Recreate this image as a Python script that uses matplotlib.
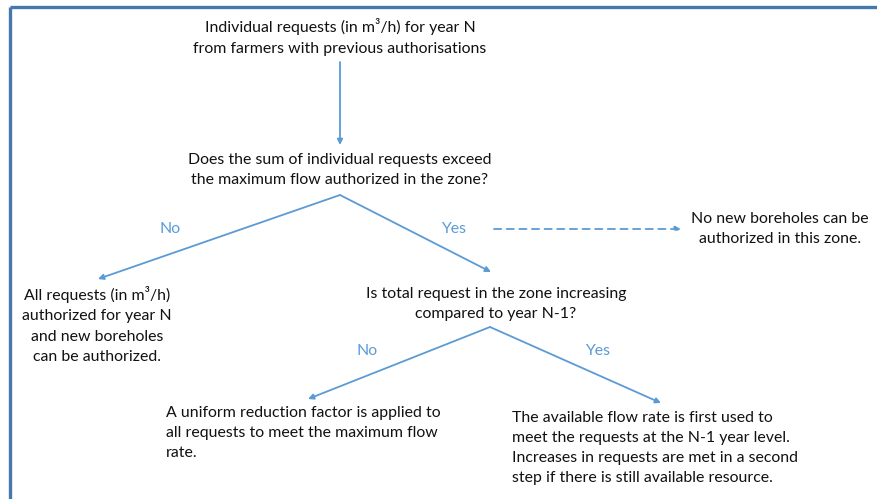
import matplotlib.pyplot as plt

# node texts
top_text = "Individual requests (in m³/h) for year N\nfrom farmers with previous authorisations"
q1_text = "Does the sum of individual requests exceed\nthe maximum flow authorized in the zone?"
no_new_text = "No new boreholes can be\nauthorized in this zone."
all_ok_text = "All requests (in m³/h)\nauthorized for year N\nand new boreholes\ncan be authorized."
q2_text = "Is total request in the zone increasing\ncompared to year N-1?"
reduce_text = "A uniform reduction factor is applied to\nall requests to meet the maximum flow\nrate."
first_text = ("The available flow rate is first used to\nmeet the requests at the N-1 year level.\n"
              "Increases in requests are met in a second\nstep if there is still available resource.")
branch_labels = ["No", "Yes", "No", "Yes"]

# layout in pixel coords (y downwards)
branch_pos = [(170, 229), (454, 229), (367, 351), (598, 351)]
arrows = [((340, 62), (340, 145)),
          ((340, 195), (98, 279)),
          ((340, 195), (491, 272)),
          ((490, 327), (308, 399)),
          ((490, 327), (661, 403))]
dashed_arrow = ((494, 229), (681, 229))

blue = '#5b9bd5'
frame = '#4677ad'
fs = 11.4
plt.rcParams['font.family'] = ['Lato', 'DejaVu Sans']

fig = plt.figure(figsize=(8.77, 4.99), dpi=100)
ax = fig.add_axes([0, 0, 1, 1])
ax.set_xlim(0, 877)
ax.set_ylim(499, 0)
ax.axis('off')

# frame on top and left
ax.plot([9.5, 877], [6.5, 6.5], color=frame, lw=2.4, solid_capstyle='butt')
ax.plot([9.5, 9.5], [6.5, 499], color=frame, lw=2.4, solid_capstyle='butt')

txt = dict(fontsize=fs, color='#111111', va='center', linespacing=1.55)
ax.text(340, 37, top_text, ha='center', multialignment='center', **txt)
ax.text(340, 170, q1_text, ha='center', multialignment='center', **txt)
ax.text(780, 229, no_new_text, ha='center', multialignment='center', **txt)
ax.text(97, 325, all_ok_text, ha='center', multialignment='center', **txt)
ax.text(496, 304, q2_text, ha='center', multialignment='center', **txt)
ax.text(166, 433, reduce_text, ha='left', multialignment='left', **txt)
ax.text(512, 448, first_text, ha='left', multialignment='left', **txt)

for lab, (x, y) in zip(branch_labels, branch_pos):
    ax.text(x, y, lab, ha='center', va='center', fontsize=fs, color=blue)

for start, end in arrows:
    ax.annotate('', xy=end, xytext=start,
                arrowprops=dict(arrowstyle='-|>', color=blue, lw=1.3,
                                mutation_scale=8, shrinkA=0, shrinkB=0))

ax.annotate('', xy=dashed_arrow[1], xytext=dashed_arrow[0],
            arrowprops=dict(arrowstyle='-|>', color=blue, lw=1.3, linestyle=(0, (4, 3)),
                            mutation_scale=8, shrinkA=0, shrinkB=0))

fig.savefig('out.png', dpi=100)
